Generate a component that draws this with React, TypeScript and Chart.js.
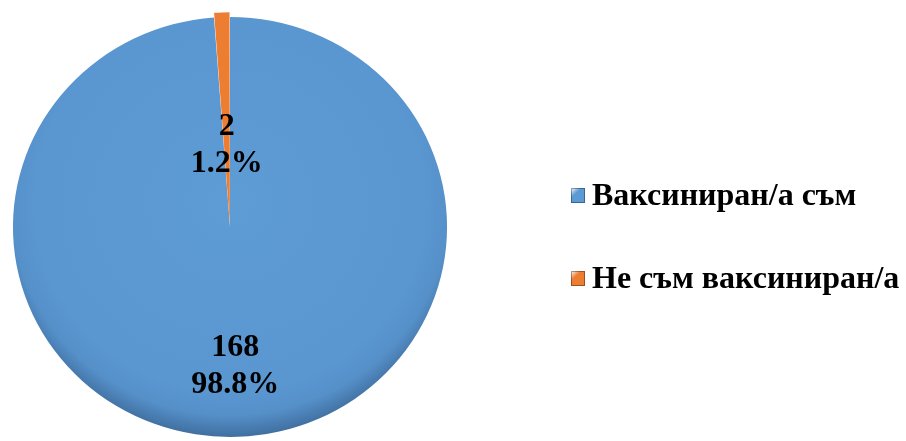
import React, { useEffect, useRef } from "react";
import { Chart, registerables } from "chart.js";

Chart.register(...registerables);

const categories = ["Ваксиниран/а съм", "Не съм ваксиниран/а"];
const counts = [168, 2];
const percentLabels = ["98.8%", "1.2%"];
const colors = ["#5B9BD5", "#ED7D31"];
const offsets = [0, 10];

const FONT = "bold 32px 'Liberation Serif', 'Times New Roman', serif";
const SX = 1.019;
const SY = 0.986;

function sliceFill(context: any) {
  const i = context.dataIndex;
  if (i !== 0) return colors[i];
  const chart = context.chart;
  const area = chart.chartArea;
  if (!area) return colors[0];
  const cx = (area.left + area.right) / 2;
  const cy = (area.top + area.bottom) / 2;
  const g = chart.ctx.createRadialGradient(cx, cy - 25, 0, cx, cy - 25, 240);
  g.addColorStop(0, "#5E9CD6");
  g.addColorStop(0.8, "#5A96D0");
  g.addColorStop(0.9, "#5590C9");
  g.addColorStop(1, "#3E6C9C");
  return g;
}

const piePlugin = {
  id: "pieShape",
  beforeDatasetsDraw(chart: any) {
    const ctx = chart.ctx;
    const arc = chart.getDatasetMeta(0).data[0];
    ctx.save();
    if (!arc) return;
    ctx.translate(arc.x, arc.y);
    ctx.scale(SX, SY);
    ctx.translate(-arc.x, -arc.y);
  },
  afterDatasetsDraw(chart: any) {
    const ctx = chart.ctx;
    ctx.restore();
    const meta = chart.getDatasetMeta(0);
    const factors = [0.66, 0.39];
    ctx.save();
    ctx.font = FONT;
    ctx.fillStyle = "#000";
    ctx.textAlign = "center";
    ctx.textBaseline = "middle";
    meta.data.forEach((arc: any, i: number) => {
      const { x, y, startAngle, endAngle, outerRadius } = arc.getProps(
        ["x", "y", "startAngle", "endAngle", "outerRadius"],
        true
      );
      const mid = (startAngle + endAngle) / 2;
      const r = outerRadius * factors[i];
      const cx = x + Math.cos(mid) * r * SX;
      const cy = y + Math.sin(mid) * r * SY;
      ctx.fillText(String(counts[i]), cx, cy - 18);
      ctx.fillText(percentLabels[i], cx, cy + 19);
    });
    ctx.restore();
  },
};

const legendPlugin = {
  id: "sideLegend",
  afterDraw(chart: any) {
    const ctx = chart.ctx;
    const left = 571;
    const baselines = [205, 288];
    ctx.save();
    ctx.font = FONT;
    ctx.textBaseline = "alphabetic";
    ctx.textAlign = "left";
    categories.forEach((c, i) => {
      const b = baselines[i];
      const g = ctx.createLinearGradient(left, b - 17, left + 14, b - 2);
      g.addColorStop(0, "#ffffff");
      g.addColorStop(0.35, colors[i]);
      g.addColorStop(1, colors[i]);
      ctx.fillStyle = g;
      ctx.fillRect(left, b - 17, 14, 15);
      ctx.strokeStyle = "rgba(0,0,0,0.35)";
      ctx.lineWidth = 1;
      ctx.strokeRect(left + 0.5, b - 16.5, 13, 14);
      ctx.fillStyle = "#000";
      ctx.fillText(c, left + 21, b);
    });
    ctx.restore();
  },
};

export default function App() {
  const ref = useRef<HTMLCanvasElement>(null);
  useEffect(() => {
    document.body.style.margin = "0";
    const chart = new Chart(ref.current!, {
      type: "pie",
      data: {
        labels: categories,
        datasets: [
          {
            data: counts,
            backgroundColor: sliceFill as any,
            borderWidth: 0,
            offset: offsets,
          },
        ],
      },
      options: {
        animation: false,
        responsive: false,
        radius: 213,
        layout: { padding: { left: 0, right: 446, top: 0, bottom: 26 } },
        plugins: {
          legend: { display: false },
          tooltip: { enabled: false },
        },
      },
      plugins: [piePlugin, legendPlugin],
    });
    return () => chart.destroy();
  }, []);
  return (
    <div style={{ width: 906, height: 441, overflow: "hidden", position: "relative", background: "#fff" }}>
      <canvas ref={ref} width={906} height={480} style={{ display: "block" }} />
    </div>
  );
}
